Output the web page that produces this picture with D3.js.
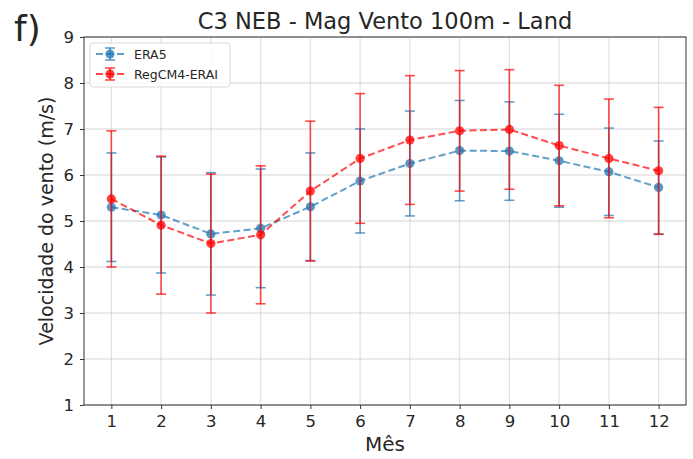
<!DOCTYPE html>
<html lang="en">
  <head>
    <meta charset="utf-8" />
    <title>C3 NEB - Mag Vento 100m - Land</title>
    <script src="https://d3js.org/d3.v7.min.js"></script>
    <style>
      body { margin: 0; background: #fff; }
      text { font-family: "DejaVu Sans", sans-serif; fill: #262626; }
    </style>
  </head>
  <body>
    <div id="my_dataviz"></div>
    <script>
      // data
      const months = [1, 2, 3, 4, 5, 6, 7, 8, 9, 10, 11, 12];
      const era5Mean = [5.30, 5.13, 4.72, 4.84, 5.31, 5.87, 6.25, 6.53, 6.52, 6.31, 6.07, 5.73];
      const era5Err  = [1.18, 1.26, 1.33, 1.29, 1.17, 1.13, 1.14, 1.09, 1.07, 1.01, 0.95, 1.01];
      const regMean  = [5.48, 4.91, 4.51, 4.70, 5.65, 6.36, 6.76, 6.96, 6.99, 6.64, 6.36, 6.09];
      const regErr   = [1.48, 1.50, 1.51, 1.50, 1.52, 1.41, 1.40, 1.31, 1.30, 1.31, 1.29, 1.38];
      const yTicks = [1, 2, 3, 4, 5, 6, 7, 8, 9];

      const series = [
        { name: "ERA5", mean: era5Mean, err: era5Err, color: "#1f77b4" },
        { name: "RegCM4-ERAI", mean: regMean, err: regErr, color: "#ff0000" }
      ];

      const W = 693, H = 459;
      const plot = { left: 84, right: 686, top: 37, bottom: 405 };

      const svg = d3.select("#my_dataviz")
        .append("svg")
          .attr("width", W)
          .attr("height", H);

      const x = d3.scaleLinear().domain([0.45, 12.55]).range([plot.left, plot.right]);
      const y = d3.scaleLinear().domain([1, 9]).range([plot.bottom, plot.top]);

      // grid
      const grid = svg.append("g");
      grid.selectAll("line.vx")
        .data(months)
        .join("line")
          .attr("x1", d => x(d)).attr("x2", d => x(d))
          .attr("y1", plot.top).attr("y2", plot.bottom)
          .attr("stroke", "#b0b0b0").attr("stroke-opacity", 0.35).attr("stroke-width", 1.3);
      grid.selectAll("line.hy")
        .data(yTicks)
        .join("line")
          .attr("y1", d => y(d)).attr("y2", d => y(d))
          .attr("x1", plot.left).attr("x2", plot.right)
          .attr("stroke", "#b0b0b0").attr("stroke-opacity", 0.35).attr("stroke-width", 1.3);

      // axes
      const xAxis = svg.append("g")
        .attr("transform", `translate(0, ${plot.bottom})`)
        .call(d3.axisBottom(x).tickValues(months).tickSize(4).tickPadding(6).tickFormat(d3.format("d")));
      const yAxis = svg.append("g")
        .attr("transform", `translate(${plot.left}, 0)`)
        .call(d3.axisLeft(y).tickValues(yTicks).tickSize(4).tickPadding(6).tickFormat(d3.format("d")));
      [xAxis, yAxis].forEach(a => {
        a.select(".domain").remove();
        a.selectAll(".tick line").attr("stroke", "#333").attr("stroke-width", 1);
        a.selectAll(".tick text").style("font-size", "16.5px").style("font-family", "DejaVu Sans").attr("fill", "#262626");
      });

      // frame
      svg.append("rect")
        .attr("x", plot.left).attr("y", plot.top)
        .attr("width", plot.right - plot.left).attr("height", plot.bottom - plot.top)
        .attr("fill", "none").attr("stroke", "#333").attr("stroke-width", 1);

      // series
      const capW = 5;
      series.forEach(s => {
        const g = svg.append("g");
        const pts = months.map((m, i) => ({ m: m, v: s.mean[i], e: s.err[i] }));

        g.selectAll("line.bar")
          .data(pts)
          .join("line")
            .attr("x1", d => x(d.m)).attr("x2", d => x(d.m))
            .attr("y1", d => y(d.v - d.e)).attr("y2", d => y(d.v + d.e))
            .attr("stroke", s.color).attr("stroke-opacity", 0.7).attr("stroke-width", 1.6);
        g.selectAll("line.capTop")
          .data(pts)
          .join("line")
            .attr("x1", d => x(d.m) - capW).attr("x2", d => x(d.m) + capW)
            .attr("y1", d => y(d.v + d.e)).attr("y2", d => y(d.v + d.e))
            .attr("stroke", s.color).attr("stroke-opacity", 0.7).attr("stroke-width", 1.6);
        g.selectAll("line.capBot")
          .data(pts)
          .join("line")
            .attr("x1", d => x(d.m) - capW).attr("x2", d => x(d.m) + capW)
            .attr("y1", d => y(d.v - d.e)).attr("y2", d => y(d.v - d.e))
            .attr("stroke", s.color).attr("stroke-opacity", 0.7).attr("stroke-width", 1.6);

        g.append("path")
          .datum(pts)
          .attr("fill", "none")
          .attr("stroke", s.color).attr("stroke-opacity", 0.7)
          .attr("stroke-width", 2)
          .attr("stroke-dasharray", "7,3.5")
          .attr("d", d3.line().x(d => x(d.m)).y(d => y(d.v)));

        g.selectAll("circle")
          .data(pts)
          .join("circle")
            .attr("cx", d => x(d.m)).attr("cy", d => y(d.v))
            .attr("r", 4.6)
            .attr("fill", s.color).attr("fill-opacity", 0.75);
      });

      // legend
      const leg = svg.append("g");
      leg.append("rect")
        .attr("x", 90).attr("y", 43).attr("width", 140).attr("height", 44)
        .attr("rx", 3)
        .attr("fill", "#fff").attr("fill-opacity", 0.8)
        .attr("stroke", "#d9d9d9").attr("stroke-width", 1);
      series.forEach((s, i) => {
        const cy = 54 + i * 20, cx = 110;
        leg.append("line")
          .attr("x1", 96).attr("x2", 124).attr("y1", cy).attr("y2", cy)
          .attr("stroke", s.color).attr("stroke-opacity", 0.7).attr("stroke-width", 2)
          .attr("stroke-dasharray", "7,3.5");
        leg.append("line")
          .attr("x1", cx).attr("x2", cx).attr("y1", cy - 6).attr("y2", cy + 6)
          .attr("stroke", s.color).attr("stroke-opacity", 0.7).attr("stroke-width", 1.6);
        [cy - 6, cy + 6].forEach(cyy => {
          leg.append("line")
            .attr("x1", cx - capW).attr("x2", cx + capW).attr("y1", cyy).attr("y2", cyy)
            .attr("stroke", s.color).attr("stroke-opacity", 0.7).attr("stroke-width", 1.6);
        });
        leg.append("circle")
          .attr("cx", cx).attr("cy", cy).attr("r", 4.6)
          .attr("fill", s.color).attr("fill-opacity", 0.75);
        leg.append("text")
          .attr("x", 134).attr("y", cy + 4.5)
          .style("font-size", "12.5px")
          .text(s.name);
      });

      // title and labels
      svg.append("text")
        .attr("x", (plot.left + plot.right) / 2).attr("y", 28.5)
        .attr("text-anchor", "middle")
        .style("font-size", "22.5px")
        .text("C3 NEB - Mag Vento 100m - Land");
      svg.append("text")
        .attr("x", 14).attr("y", 41)
        .style("font-size", "36px")
        .text("f)");
      svg.append("text")
        .attr("x", (plot.left + plot.right) / 2).attr("y", 451)
        .attr("text-anchor", "middle")
        .style("font-size", "20px")
        .text("Mês");
      svg.append("text")
        .attr("transform", `translate(53, ${(plot.top + plot.bottom) / 2}) rotate(-90)`)
        .attr("text-anchor", "middle")
        .style("font-size", "19px")
        .text("Velocidade do vento (m/s)");
    </script>
  </body>
</html>
